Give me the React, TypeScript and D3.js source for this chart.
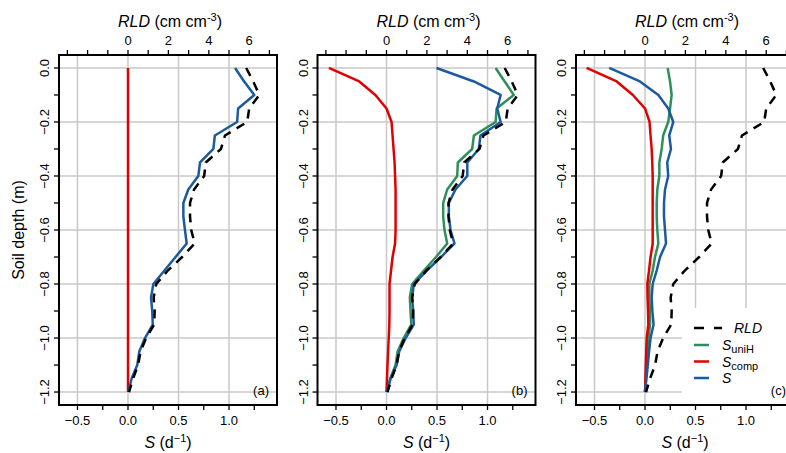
import * as d3 from "d3";

// soil depth (m) of each profile point
const depth = [0.0, -0.05, -0.1, -0.15, -0.2, -0.25, -0.3, -0.35, -0.4, -0.45, -0.5, -0.55, -0.6, -0.65, -0.7, -0.75, -0.8, -0.85, -0.9, -0.95, -1.0, -1.05, -1.1, -1.15, -1.2];

// root length density (cm cm-3), same in every panel
const rld = [5.85, 6.2, 6.5, 6.0, 5.9, 4.8, 4.6, 3.85, 3.77, 3.27, 3.07, 3.07, 3.13, 3.3, 2.68, 1.97, 1.4, 1.27, 1.32, 1.3, 0.9, 0.62, 0.5, 0.25, 0.05];

// panel (a)
const sA = [1.06, 1.15, 1.25, 1.09, 1.08, 0.86, 0.845, 0.713, 0.696, 0.597, 0.548, 0.548, 0.564, 0.581, 0.471, 0.361, 0.251, 0.228, 0.24, 0.245, 0.168, 0.112, 0.092, 0.036, 0.003];
const compA = [0, 0, 0, 0, 0, 0, 0, 0, 0, 0, 0, 0, 0, 0, 0, 0, 0, 0, 0, 0, 0, 0, 0, 0, 0];

// panel (b)
const uniHB = [1.08, 1.17, 1.26, 1.09, 1.08, 0.865, 0.848, 0.706, 0.7, 0.601, 0.561, 0.561, 0.574, 0.601, 0.49, 0.37, 0.254, 0.231, 0.238, 0.245, 0.17, 0.11, 0.09, 0.036, 0.003];
const compB = [-0.57, -0.27, -0.11, 0.0, 0.05, 0.06, 0.07, 0.08, 0.085, 0.09, 0.09, 0.09, 0.09, 0.085, 0.06, 0.045, 0.03, 0.03, 0.03, 0.028, 0.022, 0.016, 0.01, 0.005, 0.0];
const sB = [0.495, 0.865, 1.13, 1.096, 1.13, 0.93, 0.914, 0.8, 0.8, 0.683, 0.617, 0.617, 0.634, 0.673, 0.54, 0.4, 0.27, 0.254, 0.264, 0.27, 0.19, 0.126, 0.1, 0.041, 0.003];

// panel (c)
const uniHC = [0.224, 0.248, 0.264, 0.248, 0.23, 0.18, 0.165, 0.142, 0.142, 0.122, 0.116, 0.116, 0.122, 0.132, 0.099, 0.076, 0.043, 0.043, 0.05, 0.05, 0.035, 0.025, 0.02, 0.01, 0.0];
const compC = [-0.578, -0.28, -0.12, 0.0, 0.045, 0.055, 0.066, 0.072, 0.076, 0.076, 0.076, 0.076, 0.076, 0.076, 0.055, 0.04, 0.023, 0.025, 0.03, 0.033, 0.017, 0.012, 0.008, 0.004, 0.0];
const sC = [-0.354, -0.05, 0.132, 0.23, 0.28, 0.24, 0.257, 0.22, 0.23, 0.198, 0.188, 0.188, 0.198, 0.208, 0.149, 0.116, 0.076, 0.066, 0.073, 0.085, 0.055, 0.04, 0.028, 0.014, 0.0];

const sLabels = [-0.5, 0, 0.5, 1.0];
const rldLabels = [0, 2, 4, 6];
const depthLabels = [0, -0.2, -0.4, -0.6, -0.8, -1.0, -1.2];

const RED = "#e00000";
const BLUE = "#1c5a9e";
const GREEN = "#2e8f5a";
const GRID = "#c8c8c8";
const FONT = "'Liberation Sans', Arial, sans-serif";

const W = 786;
const H = 453;
const PW = 218;
const PH = 350;
const TOP = 55;
const lefts = [59, 317.5, 576];

const x = d3.scaleLinear().domain([-0.683, 1.475]).range([0, PW]);
const xr = d3.scaleLinear().domain([-0.683 * 5, 1.475 * 5]).range([0, PW]);
const y = d3.scaleLinear().domain([0.048, -1.248]).range([0, PH]);

const sMinor = d3.range(-0.5, 1.26, 0.25);
const rldMinor = d3.range(-3, 8, 1);
const depthMinor = d3.range(0, 13, 1).map((k) => -k / 10);

const fmt1 = d3.format(".1f");

const lineS = d3
  .line<number>()
  .x((v) => x(v))
  .y((_, i) => y(depth[i]));
const lineR = d3
  .line<number>()
  .x((v) => xr(v))
  .y((_, i) => y(depth[i]));

type Series = { values: number[]; color: string };

function Panel({ left, label, lines, legend, yTitle }: { left: number; label: string; lines: Series[]; legend?: boolean; yTitle?: boolean }) {
  return (
    <g transform={`translate(${left},${TOP})`}>
      {/* grid */}
      {sLabels.map((v) => (
        <line key={"gx" + v} x1={x(v)} x2={x(v)} y1={0} y2={PH} stroke={GRID} strokeWidth={1.5} />
      ))}
      {depthLabels.map((v) => (
        <line key={"gy" + v} x1={0} x2={PW} y1={y(v)} y2={y(v)} stroke={GRID} strokeWidth={1.5} />
      ))}
      {legend && <rect x={106} y={253} width={PW - 106} height={PH - 253} fill="#fff" />}

      {lines.map((s, i) => (
        <path key={i} d={lineS(s.values) ?? ""} fill="none" stroke={s.color} strokeWidth={2.5} strokeLinejoin="round" />
      ))}
      <path d={lineR(rld) ?? ""} fill="none" stroke="#000" strokeWidth={2.5} strokeDasharray="9 7" />

      {/* frame */}
      <rect x={0} y={0} width={PW} height={PH} fill="none" stroke="#000" strokeWidth={2} />

      {/* top axis: RLD */}
      {rldMinor.map((v) => (
        <line key={"tr" + v} x1={xr(v)} x2={xr(v)} y1={0} y2={-5} stroke="#000" strokeWidth={1.3} />
      ))}
      {rldLabels.map((v) => (
        <text key={"lr" + v} x={xr(v)} y={-10} textAnchor="middle" fontSize={13} fontFamily={FONT}>
          {v}
        </text>
      ))}
      <text x={PW / 2 + 2} y={-28} textAnchor="middle" fontSize={16} fontFamily={FONT}>
        <tspan fontStyle="italic">RLD</tspan>
        <tspan> (cm cm</tspan>
        <tspan fontSize={11} dy={-6}>-3</tspan>
        <tspan dy={6}>)</tspan>
      </text>

      {/* bottom axis: S */}
      {sMinor.map((v) => (
        <line key={"ts" + v} x1={x(v)} x2={x(v)} y1={PH} y2={PH + 5} stroke="#000" strokeWidth={1.3} />
      ))}
      {sLabels.map((v) => (
        <text key={"ls" + v} x={x(v)} y={PH + 20} textAnchor="middle" fontSize={13} fontFamily={FONT}>
          {fmt1(v)}
        </text>
      ))}
      <text x={PW / 2} y={PH + 43} textAnchor="middle" fontSize={16} fontFamily={FONT}>
        <tspan fontStyle="italic">S</tspan>
        <tspan> (d</tspan>
        <tspan fontSize={11} dy={-6}>−1</tspan>
        <tspan dy={6}>)</tspan>
      </text>

      {/* left axis: depth */}
      {depthMinor.map((v) => (
        <line key={"td" + v} x1={0} x2={-5} y1={y(v)} y2={y(v)} stroke="#000" strokeWidth={1.3} />
      ))}
      {depthLabels.map((v) => (
        <text key={"ld" + v} transform={`translate(-10,${y(v)}) rotate(-90)`} textAnchor="middle" fontSize={13} fontFamily={FONT}>
          {fmt1(v)}
        </text>
      ))}
      {yTitle && (
        <text transform={`translate(-35,${PH / 2}) rotate(-90)`} textAnchor="middle" fontSize={16} fontFamily={FONT}>
          Soil depth (m)
        </text>
      )}

      {legend && (
        <g fontFamily={FONT} fontSize={14}>
          <line x1={118} x2={146} y1={273} y2={273} stroke="#000" strokeWidth={2.5} strokeDasharray="10 10" />
          <text x={158} y={278} fontStyle="italic">RLD</text>
          {[
            { c: GREEN, sub: "uniH" },
            { c: RED, sub: "comp" },
            { c: BLUE, sub: "" },
          ].map((e, i) => (
            <g key={i} transform={`translate(0,${290 + i * 16.5})`}>
              <line x1={118} x2={133} y1={0} y2={0} stroke={e.c} strokeWidth={2.5} />
              <text x={146} y={5}>
                <tspan fontStyle="italic">S</tspan>
                {e.sub && (
                  <tspan fontSize={11} dy={3}>
                    {e.sub}
                  </tspan>
                )}
              </text>
            </g>
          ))}
        </g>
      )}

      <text x={PW - 8} y={PH - 10} textAnchor="end" fontSize={13} fontFamily={FONT}>
        {label}
      </text>
    </g>
  );
}

export default function App() {
  return (
    <svg width={W} height={H} viewBox={`0 0 ${W} ${H}`} style={{ position: "absolute", left: 0, top: 0, background: "#fff" }}>
      <Panel
        left={lefts[0]}
        label="(a)"
        yTitle
        lines={[
          { values: compA, color: RED },
          { values: sA, color: BLUE },
        ]}
      />
      <Panel
        left={lefts[1]}
        label="(b)"
        lines={[
          { values: uniHB, color: GREEN },
          { values: compB, color: RED },
          { values: sB, color: BLUE },
        ]}
      />
      <Panel
        left={lefts[2]}
        label="(c)"
        legend
        lines={[
          { values: uniHC, color: GREEN },
          { values: compC, color: RED },
          { values: sC, color: BLUE },
        ]}
      />
    </svg>
  );
}
